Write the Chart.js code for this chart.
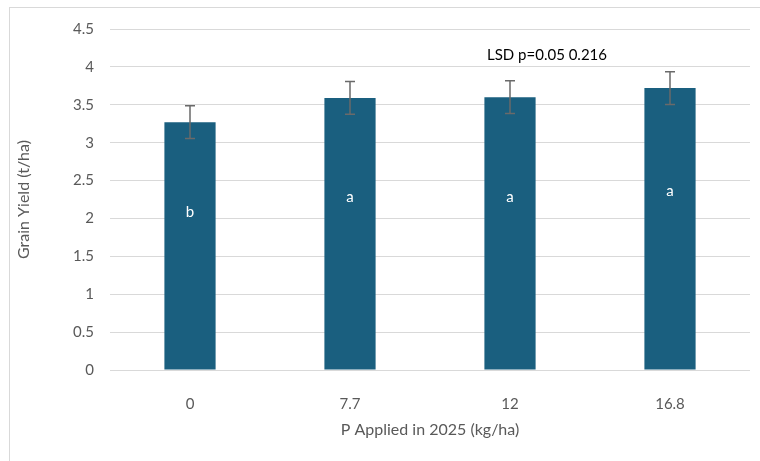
<!DOCTYPE html>
<html>
<head>
<meta charset="utf-8">
<script src="https://cdn.jsdelivr.net/npm/chart.js@4.4.1/dist/chart.umd.min.js"></script>
<style>
  html, body { margin: 0; padding: 0; background: #fff; }
  #wrap { position: relative; width: 760px; height: 461px; }
</style>
</head>
<body>
<div id="wrap"><canvas id="yield"></canvas></div>
<script>
var categories = ["0", "7.7", "12", "16.8"];
var grainYield = [3.27, 3.59, 3.60, 3.72];
var errorBars = [0.216, 0.216, 0.216, 0.216];
var letters = ["b", "a", "a", "a"];
var lsdNote = "LSD p=0.05 0.216";

var fonts = "Lato, 'Open Sans', sans-serif"
  , grey = "#595959"
  , barColor = "#1A5F7F";

var extras = {
	id: "extras",
	beforeDraw: function(chart) {
		var ctx = chart.ctx;
		ctx.save();
		ctx.fillStyle = "#fff";
		ctx.fillRect(0, 0, chart.width, chart.height);
		ctx.strokeStyle = "#d9d9d9";
		ctx.lineWidth = 1;
		ctx.strokeRect(9.5, 7.5, 800, 500);
		ctx.restore();
	},
	afterDatasetsDraw: function(chart) {
		var ctx = chart.ctx
		  , y = chart.scales.y
		  , bars = chart.getDatasetMeta(0).data;
		ctx.save();
		bars.forEach(function(bar, i) {
			var top = y.getPixelForValue(grainYield[i] + errorBars[i])
			  , bot = y.getPixelForValue(grainYield[i] - errorBars[i]);
			ctx.strokeStyle = "#6a6a6a";
			ctx.lineWidth = 1.5;
			ctx.beginPath();
			ctx.moveTo(bar.x, top); ctx.lineTo(bar.x, bot);
			ctx.moveTo(bar.x - 5, top); ctx.lineTo(bar.x + 5, top);
			ctx.moveTo(bar.x - 5, bot); ctx.lineTo(bar.x + 5, bot);
			ctx.stroke();
			// letter in the bar
			ctx.fillStyle = "#fff";
			ctx.font = "15px " + fonts;
			ctx.textAlign = "center";
			ctx.textBaseline = "middle";
			ctx.fillText(letters[i], bar.x, y.getPixelForValue(grainYield[i] * 0.635));
		});
		var x = chart.scales.x;
		ctx.fillStyle = "#000";
		ctx.font = "15px " + fonts;
		ctx.textAlign = "center";
		ctx.textBaseline = "middle";
		ctx.fillText(lsdNote, (x.getPixelForValue(2) + x.getPixelForValue(3)) / 2 - 43, y.getPixelForValue(4.15));
		ctx.restore();
	}
};

var ctx = document.getElementById("yield").getContext("2d");
new Chart(ctx, {
	type: "bar",
	data: {
		labels: categories,
		datasets: [{
			data: grainYield,
			backgroundColor: barColor,
			barPercentage: 0.8,
			categoryPercentage: 0.4
		}]
	},
	options: {
		responsive: true,
		maintainAspectRatio: false,
		animation: false,
		layout: { padding: { top: 29, right: 10, left: 0, bottom: 0 } },
		plugins: { legend: { display: false }, tooltip: { enabled: false } },
		scales: {
			x: {
				grid: { display: false, drawTicks: false },
				border: { display: false },
				ticks: { color: grey, font: { family: fonts, size: 15 }, padding: 25 },
				title: { display: true, text: "P Applied in 2025 (kg/ha)", color: grey,
					font: { family: fonts, size: 16 }, padding: { top: 0, bottom: 22 } },
				afterFit: function(s) { s.height = 91; }
			},
			y: {
				min: 0, max: 4.5,
				grid: { color: "#d9d9d9", drawTicks: false },
				border: { display: false },
				ticks: { stepSize: 0.5, color: grey, font: { family: fonts, size: 15 }, padding: 16,
					callback: function(v) { return String(v); } },
				title: { display: true, text: "Grain Yield (t/ha)", color: grey,
					font: { family: fonts, size: 16 }, padding: { top: 14, bottom: 0 } },
				afterFit: function(s) { s.width = 110; }
			}
		}
	},
	plugins: [extras]
});
</script>
</body>
</html>
